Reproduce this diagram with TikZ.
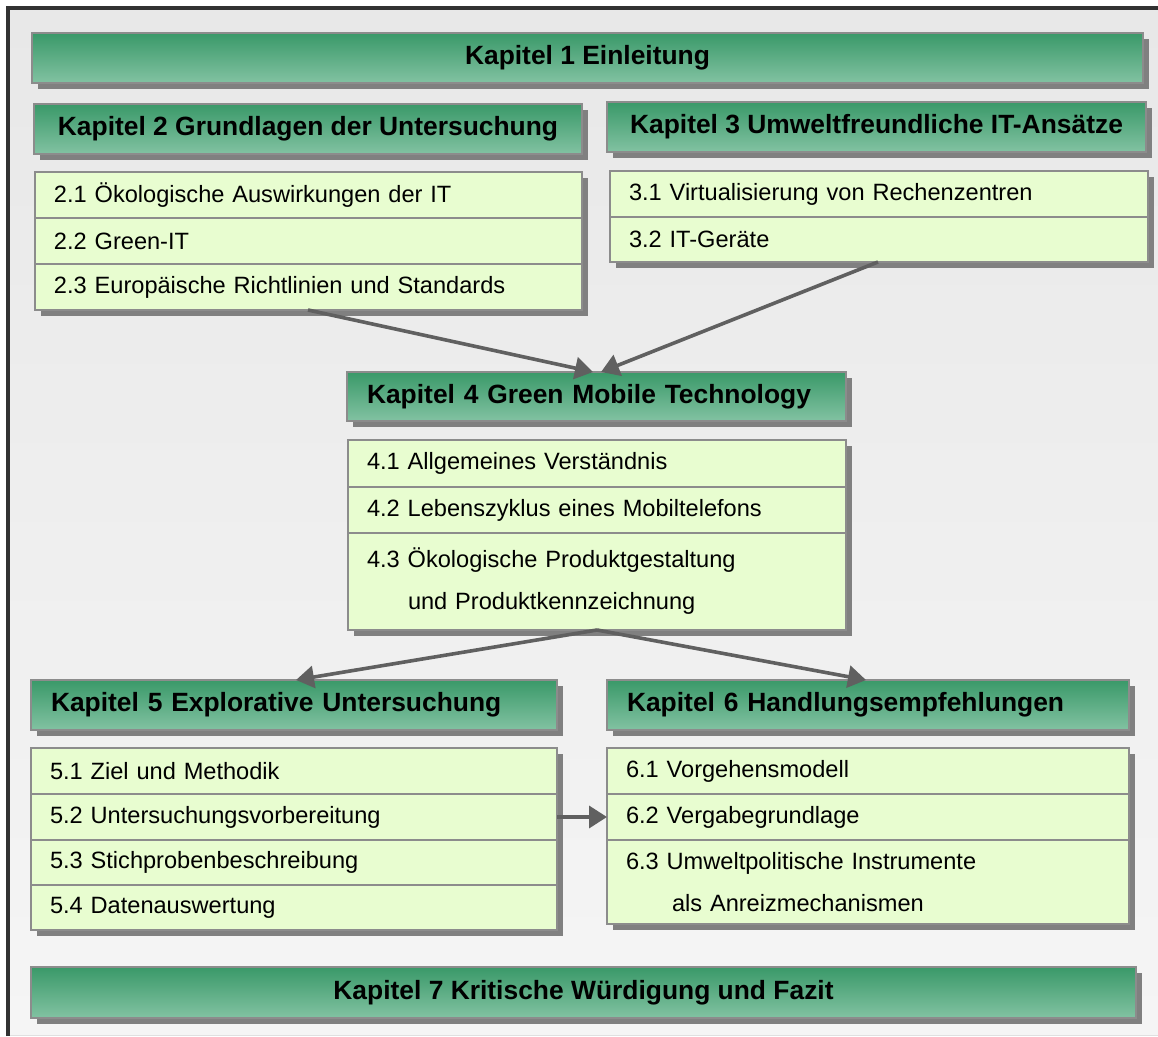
\documentclass[tikz,border=0pt]{standalone}
\usepackage{fontspec}
\setmainfont{Liberation Sans}
\usetikzlibrary{arrows.meta,shadows}
\definecolor{kapdark}{RGB}{58,153,105}
\definecolor{kaplight}{RGB}{130,194,162}
\definecolor{rowfill}{RGB}{232,253,208}
\definecolor{edgegray}{RGB}{140,140,140}
\definecolor{shadowgray}{RGB}{128,128,128}
\definecolor{arrowgray}{RGB}{96,96,96}
\definecolor{bgtop}{RGB}{232,232,232}
\definecolor{bgbottom}{RGB}{245,245,245}
\definecolor{framedark}{RGB}{50,50,50}

\begin{document}
\begin{tikzpicture}[x=0.5pt,y=-0.5pt,
    schatten/.style={drop shadow={shadow xshift=3pt,shadow yshift=-3pt,fill=shadowgray,opacity=1}},
    kapitel/.style={draw=edgegray,line width=1pt,top color=kapdark,bottom color=kaplight,
      anchor=north west,outer sep=0pt,inner xsep=10pt,minimum height=25pt,
      font=\fontsize{13.2}{16}\selectfont\bfseries,schatten},
    zeile/.style={draw=edgegray,line width=1pt,fill=rowfill,anchor=north west,
      outer sep=0pt,inner xsep=9.5pt,minimum height=23pt,align=left,
      font=\fontsize{11.8}{21}\selectfont,schatten},
    pfeil/.style={draw=arrowgray,line width=1.8pt,-{Triangle[length=9pt,width=11pt]}}]
        \useasboundingbox (0,0) rectangle (1158,1037);
        % Background panel with dark frame on left and top
        \fill[top color=bgtop,bottom color=bgbottom] (8,8) rectangle (1158,1035);
        \draw[black!12] (8,1035) -- (1158,1035);
        \draw[framedark,line width=1.8pt] (8,1036) -- (8,8) -- (1158,8);

        % Chapter 1
        \node[kapitel,minimum width=555.5pt] (k1) at (32,33) {Kapitel 1 Einleitung};

        % Chapter 2 and its sections
        \node[kapitel,minimum width=274pt] (k2) at (34,104) {Kapitel 2 Grundlagen der Untersuchung};
        \node[zeile,text width=254.5pt] (s21) at (35,172) {2.1 Ökologische Auswirkungen der IT};
        \node[zeile,text width=254.5pt] (s22) at (s21.south west) {2.2 Green-IT};
        \node[zeile,text width=254.5pt] (s23) at (s22.south west) {2.3 Europäische Richtlinien und Standards};

        % Chapter 3 and its sections
        \node[kapitel,minimum width=269.5pt] (k3) at (607,102) {Kapitel 3 Umweltfreundliche IT-Ansätze};
        \node[zeile,text width=250pt] (s31) at (610,171) {3.1 Virtualisierung von Rechenzentren};
        \node[zeile,text width=250pt,minimum height=22.5pt] (s32) at (s31.south west) {3.2 IT-Geräte};

        % Chapter 4 and its sections
        \node[kapitel,text width=229.5pt,minimum height=24.5pt] (k4) at (347,372) {Kapitel 4 Green Mobile Technology};
        \node[zeile,text width=230pt,minimum height=23.5pt] (s41) at (348,440) {4.1 Allgemeines Verständnis};
        \node[zeile,text width=230pt] (s42) at (s41.south west) {4.2 Lebenszyklus eines Mobiltelefons};
        \node[zeile,text width=230pt,minimum height=48.5pt] (s43) at (s42.south west)
          {4.3 Ökologische Produktgestaltung\\\hspace*{20.5pt}und Produktkennzeichnung};

        % Chapter 5 and its sections
        \node[kapitel,text width=243pt] (k5) at (31,680) {Kapitel 5 Explorative Untersuchung};
        \node[zeile,text width=244pt] (s51) at (31,748) {5.1 Ziel und Methodik};
        \node[zeile,text width=244pt] (s52) at (s51.south west) {5.2 Untersuchungsvorbereitung};
        \node[zeile,text width=244pt,minimum height=22.5pt] (s53) at (s52.south west) {5.3 Stichprobenbeschreibung};
        \node[zeile,text width=244pt,minimum height=22.5pt] (s54) at (s53.south west) {5.4 Datenauswertung};

        % Chapter 6 and its sections
        \node[kapitel,text width=241pt] (k6) at (607,680) {Kapitel 6 Handlungsempfehlungen};
        \node[zeile,text width=242pt] (s61) at (607,748) {6.1 Vorgehensmodell};
        \node[zeile,text width=242pt] (s62) at (s61.south west) {6.2 Vergabegrundlage};
        \node[zeile,text width=242pt,minimum height=42pt] (s63) at (s62.south west)
          {6.3 Umweltpolitische Instrumente\\\hspace*{23pt}als Anreizmechanismen};

        % Chapter 7
        \node[kapitel,minimum width=552.5pt,minimum height=25.5pt] (k7) at (31,967) {Kapitel 7 Kritische Würdigung und Fazit};

        % Connections
        \draw[pfeil] ([xshift=136.5pt]s23.south west) -- ([xshift=123pt]k4.north west);
        \draw[pfeil] ([xshift=134pt]s32.south west) -- ([xshift=127pt]k4.north west);
        \draw[pfeil] (s43.south) -- ([xshift=132.5pt]k5.north west);
        \draw[pfeil] (s43.south) -- ([xshift=129.5pt]k6.north west);
        \draw[pfeil] (s52.east) -- (s62.west);
      \end{tikzpicture}
\end{document}
